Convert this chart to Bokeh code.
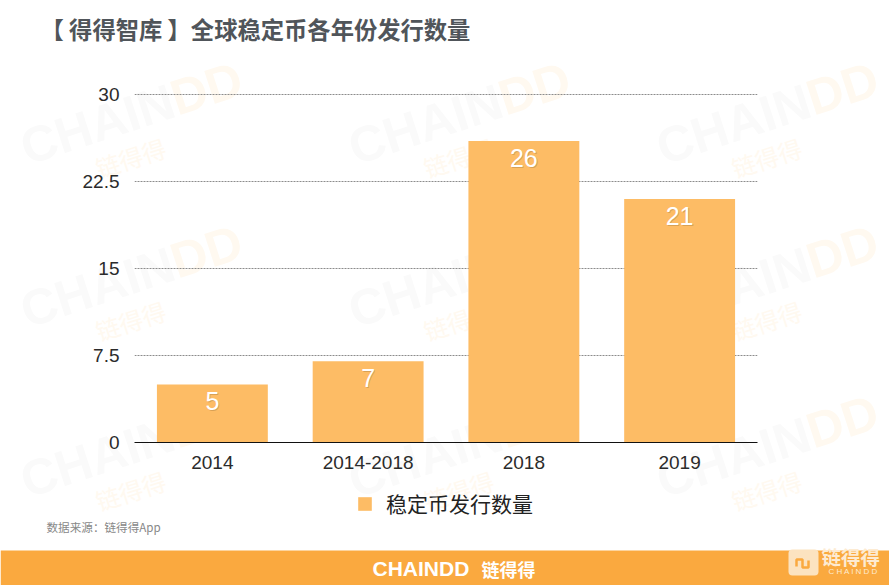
from bokeh.plotting import figure
from bokeh.models import (ColumnDataSource, Label, LabelSet, BoxAnnotation, FixedTicker,
                          Legend, LegendItem, Range1d, FactorRange)
from bokeh.core.properties import value
from bokeh.embed import file_html
from bokeh.resources import INLINE

categories = ["2014", "2014-2018", "2018", "2019"]
issued = [5, 7, 26, 21]
y_ticks = [0, 7.5, 15, 22.5, 30]
y_tick_labels = {0: "0", 7.5: "7.5", 15: "15", 22.5: "22.5", 30: "30"}
series_name = "稳定币发行数量"
title_text = "【 得得智库 】全球稳定币各年份发行数量"
source_text = "数据来源：链得得App"

CJK = "Noto Sans CJK SC"
SANS = "Liberation Sans"
BAR = "#FDBC65"
BAND = "#FAA93F"
ABS = {"position": "absolute", "left": "0px", "top": "0px"}

# backdrop: its frame is the whole canvas, so nothing on it is clipped
bg = figure(width=889, height=585, x_range=Range1d(0, 889), y_range=Range1d(585, 0),
            x_axis_type=None, y_axis_type=None, output_backend="svg", toolbar_location=None, tools="",
            min_border=0, outline_line_color=None, background_fill_color="white", border_fill_color="white")
bg.xgrid.visible = False
bg.ygrid.visible = False
bg.styles = ABS


def put(text, x, y, size, color, font=CJK, style="normal", align="left", angle=0):
    bg.add_layout(Label(x=x, y=y, x_units="canvas", y_units="canvas", text=text, text_font=font,
                        text_font_size=f"{size}px", text_color=color, text_font_style=style,
                        text_align=align, text_baseline="middle", angle=angle, angle_units="deg"))


# watermarks
for ox in (22, 350, 658):
    for oy in (148, 311, 481):
        put("CHAIN", ox + 75, oy - 24, 50, "#FAFAFA", SANS, "bold", "center", 18)
        put("DD", ox + 184, oy - 60, 50, "#FFF9F0", SANS, "bold", "center", 18)
        put("链得得", ox + 108, oy + 9, 24, "#FFF9F0", CJK, "normal", "center", 18)

# title and source
put(title_text, 40, 28, 23.3, "#50555A", CJK, "bold")
put(source_text, 46, 526, 11.6, "#888888")

# footer
bg.add_layout(BoxAnnotation(left=0, right=889, top=550, bottom=585, left_units="canvas", right_units="canvas",
                            top_units="canvas", bottom_units="canvas", fill_color=BAND, fill_alpha=1,
                            line_color=None, level="underlay"))
bg.add_layout(BoxAnnotation(left=788, right=818, top=549, bottom=575, left_units="canvas", right_units="canvas",
                            top_units="canvas", bottom_units="canvas", fill_color="#FCE3C0", fill_alpha=1,
                            line_color=None, border_radius=4, level="underlay"))
put("CHAINDD", 372, 568, 21, "white", SANS, "bold")
put("链得得", 481, 568, 18, "white", CJK, "bold")
put("链得得", 821, 556, 19.5, "#FDEBD2", CJK, "bold")
put("C H A I N D D", 828, 571, 8, "#FDEBD2", SANS)
bg.line([796, 796, 802, 802, 808, 808], [566, 559, 559, 567, 567, 560], line_color=BAND, line_width=2.5)

# legend
legend_swatch = bg.quad(left=[-100], right=[-90], top=[-100], bottom=[-90], fill_color=BAR, line_color=None)
bg.add_layout(Legend(items=[LegendItem(label=series_name, renderers=[legend_swatch])], location=(356, 67),
                     orientation="horizontal", border_line_color=None, background_fill_alpha=0,
                     label_text_font=CJK, label_text_font_size="21px", label_text_color="#222222",
                     glyph_width=17, glyph_height=17, label_standoff=13, padding=0, margin=0))

# chart
p = figure(width=889, height=585, x_range=FactorRange(*categories), y_range=Range1d(0, 30.17),
           output_backend="svg", toolbar_location=None, tools="",
           min_border_left=134, min_border_right=132, min_border_top=92, min_border_bottom=143,
           background_fill_color=None, border_fill_color=None, outline_line_color=None)
p.styles = ABS
p.x_range.range_padding = 0
p.x_range.factor_padding = 0
p.x_range.group_padding = 0

src = ColumnDataSource(dict(cat=categories, val=issued, txt=[str(v) for v in issued]))
p.vbar(x="cat", top="val", width=0.712, source=src, fill_color=BAR, line_color=None)

p.add_layout(LabelSet(x="cat", y="val", text="txt", source=src, text_align="center", text_baseline="middle",
                      y_offset=-18, x_offset=0.8, text_font=value(SANS), text_font_size="25px",
                      text_color="#B98A48", text_alpha=0.55))
p.add_layout(LabelSet(x="cat", y="val", text="txt", source=src, text_align="center", text_baseline="middle",
                      y_offset=-17, text_font=value(SANS), text_font_size="25px", text_color="white"))

p.yaxis.ticker = FixedTicker(ticks=y_ticks)
p.yaxis.major_label_overrides = y_tick_labels
p.yaxis.axis_line_color = None
p.yaxis.major_tick_line_color = None
p.yaxis.minor_tick_line_color = None
p.yaxis.major_label_text_font = SANS
p.yaxis.major_label_text_font_size = "19px"
p.yaxis.major_label_text_color = "#2B2B2B"
p.yaxis.major_label_standoff = 9

p.xaxis.axis_line_color = "#111111"
p.xaxis.axis_line_width = 1
p.xaxis.major_tick_line_color = None
p.xaxis.minor_tick_line_color = None
p.xaxis.major_label_text_font = SANS
p.xaxis.major_label_text_font_size = "19px"
p.xaxis.major_label_text_color = "#2B2B2B"
p.xaxis.major_label_standoff = 7

p.xgrid.grid_line_color = None
p.ygrid.grid_line_color = "#8C8C8C"
p.ygrid.grid_line_dash = "2 1"
p.ygrid.grid_line_width = 1

open("out.html", "w").write(file_html([bg, p], INLINE))
